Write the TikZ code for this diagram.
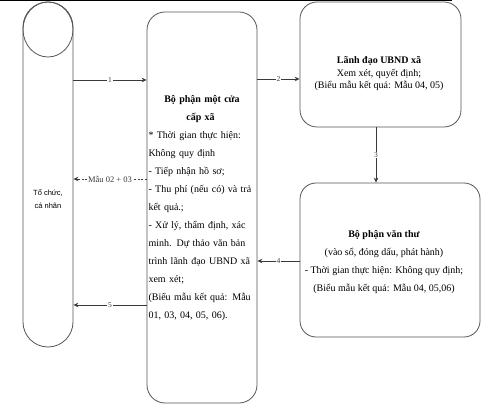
\documentclass[tikz,border=0pt]{standalone}
\usepackage{fontspec}
\setmainfont{Liberation Serif}
\newfontfamily\arialfont{Liberation Sans}
\usepackage{xcolor}
\definecolor{BoxGray}{HTML}{555555}
\definecolor{LineGray}{HTML}{3a3a3a}
\usepackage{tikz}
\usetikzlibrary{calc, arrows.meta, positioning, shapes.geometric}
\newcommand{\jl}[1]{\makebox[107pt][s]{#1}}

\begin{document}
\begin{tikzpicture}[x=1pt, y=-1pt,
    box/.style={draw=BoxGray, line width=0.8pt, rounded corners=#1, inner sep=0pt},
    arr/.style={LineGray, line width=0.7pt, -{Stealth[length=5pt,width=4.5pt]}},
    lbl/.style={fill=white, inner sep=0.8pt, font=\fontsize{7.5}{8}\selectfont}]
  \useasboundingbox (0,0) rectangle (492,411);
  \draw[black, line width=1pt] (0,0.8)--(452,0.8);
  % boxes
  \node[box=25pt, minimum width=50pt, minimum height=345pt] (toChuc) at (48,174.5) {};
  \draw[BoxGray, line width=0.8pt] (48,29.5) ellipse [x radius=25, y radius=27.5];
  \node[box=18pt, minimum width=110pt, minimum height=391pt] (motCua) at (202,207.5) {};
  \node[box=17pt, minimum width=161pt, minimum height=125pt] (lanhDao) at (380.5,64.5) {};
  \node[box=16pt, minimum width=180pt, minimum height=154pt] (vanThu) at (390,260) {};
  % texts
  \node[font=\arialfont\fontsize{7.5}{12.5}\selectfont, align=center] (toChucTxt) at (48,199) {Tổ chức,\\cá nhân};
  \node[font=\fontsize{10}{18}\selectfont, text width=107pt, align=left] (motCuaTxt) at (202,208) {%
    {\bfseries\makebox[107pt]{Bộ phận một cửa}\\
    \makebox[104pt]{cấp xã}}\\
    \jl{* Thời gian thực hiện:}\\
    Không quy định\\
    - Tiếp nhận hồ sơ;\\
    \jl{- Thu phí (nếu có) và trả}\\
    kết quả.;\\
    \jl{- Xử lý, thẩm định, xác}\\
    \jl{minh. Dự thảo văn bản}\\
    \jl{trình lãnh đạo UBND xã}\\
    xem xét;\\
    \jl{(Biểu mẫu kết quả: Mẫu}\\
    01, 03, 04, 05, 06).};
  \node[font=\fontsize{10}{12.5}\selectfont, align=center] (lanhDaoTxt) at (379,74) {%
    \textbf{Lãnh đạo UBND xã}\\
    Xem xét, quyết định;\\
    (Biểu mẫu kết quả: Mẫu 04, 05)};
  \node[font=\fontsize{10}{18}\selectfont, align=center] (vanThuTxt) at (384,262) {%
    \textbf{Bộ phận văn thư}\\
    (vào sổ, đóng dấu, phát hành)\\
    - Thời gian thực hiện: Không quy định;\\
    (Biểu mẫu kết quả: Mẫu 04, 05,06)};
  % connectors
  \draw[arr] (toChuc.east |- 0,80) -- (motCua.west |- 0,80) node[lbl, midway]{1};
  \draw[arr] (motCua.east |- 0,79) -- (lanhDao.west |- 0,79) node[lbl, midway]{2};
  \draw[arr] (lanhDao.south -| 376,0) -- (vanThu.north -| 376,0) node[lbl, midway]{3};
  \draw[arr] (vanThu.west |- 0,261) -- (motCua.east |- 0,261) node[lbl, midway]{4};
  \draw[arr] (motCua.west |- 0,305) -- (toChuc.east |- 0,305) node[lbl, midway]{5};
  \draw[arr, dash pattern=on 2pt off 1.5pt] (motCua.west |- 0,179) -- (toChuc.east |- 0,179)
    node[lbl, midway, font=\fontsize{8.5}{9}\selectfont]{Mẫu 02 + 03};
\end{tikzpicture}
\end{document}
